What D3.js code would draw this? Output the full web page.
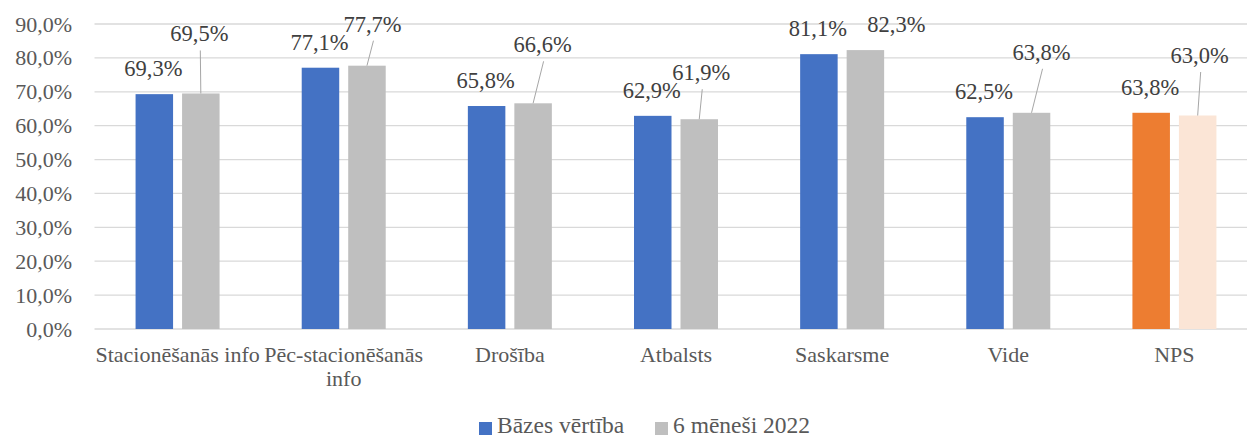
<!DOCTYPE html>
<meta charset="utf-8">
<style>

body {
  margin: 0;
  background: #fff;
}

svg {
  display: block;
  font-family: "Liberation Serif", "Times New Roman", serif;
}

.grid line {
  stroke: #d9d9d9;
  stroke-width: 1.3px;
}

.tick-label, .cat-label, .legend text {
  fill: #595959;
  font-size: 22px;
}

.legend text {
  font-size: 23.5px;
}

.value {
  fill: #404040;
  font-size: 22.5px;
}

.leader {
  stroke: #a6a6a6;
  stroke-width: 1px;
}

</style>
<body>
<script src="https://cdn.jsdelivr.net/npm/d3@7"></script>
<script>

var categories = ["Stacionēšanās info", "Pēc-stacionēšanās info", "Drošība", "Atbalsts", "Saskarsme", "Vide", "NPS"];
var series = ["Bāzes vērtība", "6 mēneši 2022"];
var baseValues = [69.3, 77.1, 65.8, 62.9, 81.1, 62.5, 63.8];
var sixMonthValues = [69.5, 77.7, 66.6, 61.9, 82.3, 63.8, 63.0];
var yTicks = [0, 10, 20, 30, 40, 50, 60, 70, 80, 90];

// label nudges for the second series (dx, dy from bar centre / top)
var labelNudge = [[-1.5, -52], [5.5, -34], [9.5, -51], [2, -39], [31, -18], [10, -53], [2, -52.5]];

var width = 1247,
    height = 437;

var colors = {
  base: "#4472c4",
  six: "#bfbfbf",
  npsBase: "#ed7d31",
  npsSix: "#fbe5d6"
};

var svg = d3.select("body").append("svg")
    .attr("width", width)
    .attr("height", height);

var x = d3.scaleBand()
    .domain(categories)
    .range([94.5, 1257.5]);

var x1 = d3.scaleBand()
    .domain(series)
    .range([-42, 42])
    .paddingInner(9 / 46.5);

var y = d3.scaleLinear()
    .domain([0, 90])
    .range([329, 24]);

var fmt = function(v) { return v.toFixed(1).replace(".", ",") + "%"; };

// grid
svg.append("g").attr("class", "grid")
  .selectAll("line")
    .data(yTicks)
  .enter().append("line")
    .attr("x1", 94.5)
    .attr("x2", width)
    .attr("y1", function(d) { return y(d); })
    .attr("y2", function(d) { return y(d); });

svg.append("g")
  .selectAll("text")
    .data(yTicks)
  .enter().append("text")
    .attr("class", "tick-label")
    .attr("x", 72)
    .attr("y", function(d) { return y(d) + 7.5; })
    .attr("text-anchor", "end")
    .text(function(d) { return fmt(d); });

var rows = categories.map(function(c, i) {
  return { cat: c, i: i, values: [baseValues[i], sixMonthValues[i]] };
});

var group = svg.append("g")
  .selectAll("g")
    .data(rows)
  .enter().append("g")
    .attr("transform", function(d) { return "translate(" + (x(d.cat) + x.bandwidth() / 2) + ",0)"; });

group.selectAll("rect")
    .data(function(d) { return d.values.map(function(v, k) { return { v: v, k: k, row: d }; }); })
  .enter().append("rect")
    .attr("x", function(d) { return x1(series[d.k]); })
    .attr("width", x1.bandwidth())
    .attr("y", function(d) { return y(d.v); })
    .attr("height", function(d) { return y(0) - y(d.v); })
    .attr("fill", function(d) {
      var nps = d.row.cat === "NPS";
      if (d.k === 0) return nps ? colors.npsBase : colors.base;
      return nps ? colors.npsSix : colors.six;
    });

// labels for base series
group.append("text")
    .attr("class", "value")
    .attr("text-anchor", "middle")
    .attr("x", function(d) { return x1(series[0]) + x1.bandwidth() / 2 - 1; })
    .attr("y", function(d) { return y(d.values[0]) - 18; })
    .text(function(d) { return fmt(d.values[0]); });

// labels for second series, with leader lines
group.each(function(d) {
  var g = d3.select(this),
      cx = x1(series[1]) + x1.bandwidth() / 2,
      top = y(d.values[1]),
      n = labelNudge[d.i],
      lx = cx + n[0],
      ly = top + n[1];
  if (n[1] < -25) {
    g.append("line")
        .attr("class", "leader")
        .attr("x1", lx + 1)
        .attr("y1", ly + 9)
        .attr("x2", cx)
        .attr("y2", top);
  }
  g.append("text")
      .attr("class", "value")
      .attr("text-anchor", "middle")
      .attr("x", lx)
      .attr("y", ly)
      .text(fmt(d.values[1]));
});

// category labels, wrapped to band width
svg.append("g")
  .selectAll("text")
    .data(categories)
  .enter().append("text")
    .attr("class", "cat-label")
    .attr("text-anchor", "middle")
    .attr("x", function(d) { return x(d) + x.bandwidth() / 2; })
    .attr("y", 362)
    .each(function(d) {
      var t = d3.select(this),
          words = d.split(" "),
          line = [],
          cx = +t.attr("x"),
          tspan = t.append("tspan").attr("x", cx);
      words.forEach(function(w) {
        line.push(w);
        tspan.text(line.join(" "));
        if (tspan.node().getComputedTextLength() > x.bandwidth() && line.length > 1) {
          line.pop();
          tspan.text(line.join(" "));
          line = [w];
          tspan = t.append("tspan").attr("x", cx).attr("dy", 24).text(w);
        }
      });
    });

// legend
var legend = svg.append("g").attr("class", "legend");
var legendItems = [
  { name: series[0], color: colors.base, x: 479 },
  { name: series[1], color: colors.six, x: 655 }
];
legendItems.forEach(function(d) {
  legend.append("rect")
      .attr("x", d.x)
      .attr("y", 422)
      .attr("width", 13)
      .attr("height", 13)
      .attr("fill", d.color);
  legend.append("text")
      .attr("x", d.x + 18)
      .attr("y", 433)
      .text(d.name);
});

</script>
